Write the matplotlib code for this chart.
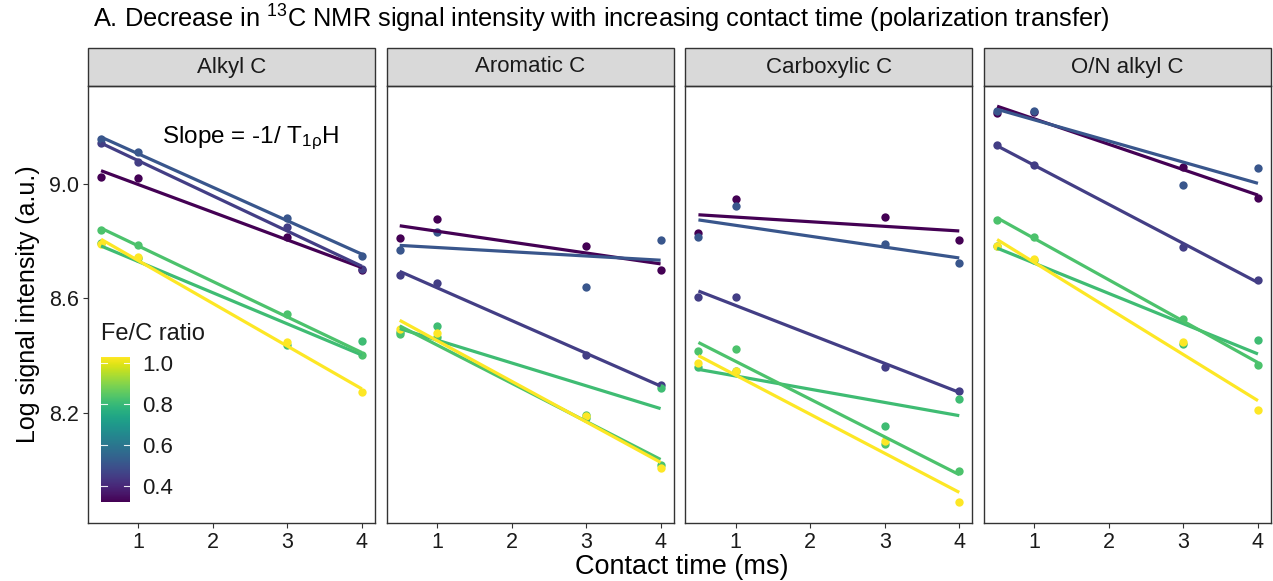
import numpy as np
import matplotlib
matplotlib.use("Agg")
import matplotlib.pyplot as plt
from matplotlib.patches import Rectangle
from matplotlib import colors

plt.rcParams['font.family'] = ['Liberation Sans', 'DejaVu Sans']
plt.rcParams['mathtext.fontset'] = 'custom'
plt.rcParams['mathtext.rm'] = 'Liberation Sans'
plt.rcParams['mathtext.it'] = 'Liberation Sans:italic'

# ---------------- data ----------------
contact_time = [0.5, 1, 3, 4]
panels = ['Alkyl C', 'Aromatic C', 'Carboxylic C', 'O/N alkyl C']
fe_c_ratio = [0.32, 0.45, 0.51, 0.81, 0.83, 1.03]

alkyl_c = [
    [9.022, 9.020, 8.813, 8.697],
    [9.142, 9.074, 8.848, 8.703],
    [9.155, 9.109, 8.879, 8.747],
    [8.792, 8.741, 8.439, 8.452],
    [8.839, 8.785, 8.547, 8.402],
    [8.790, 8.745, 8.448, 8.272],
]
aromatic_c = [
    [8.810, 8.876, 8.782, 8.697],
    [8.683, 8.652, 8.402, 8.297],
    [8.769, 8.831, 8.640, 8.802],
    [8.483, 8.505, 8.184, 8.288],
    [8.474, 8.465, 8.193, 8.019],
    [8.494, 8.480, 8.190, 8.010],
]
carboxylic_c = [
    [8.827, 8.947, 8.884, 8.802],
    [8.603, 8.606, 8.359, 8.278],
    [8.813, 8.921, 8.790, 8.723],
    [8.361, 8.347, 8.154, 8.248],
    [8.417, 8.423, 8.091, 7.998],
    [8.376, 8.346, 8.103, 7.891],
]
on_alkyl_c = [
    [9.246, 9.250, 9.057, 8.950],
    [9.135, 9.063, 8.780, 8.663],
    [9.254, 9.254, 8.995, 9.053],
    [8.784, 8.735, 8.442, 8.454],
    [8.874, 8.813, 8.529, 8.369],
    [8.781, 8.738, 8.448, 8.210],
]
panel_data = [alkyl_c, aromatic_c, carboxylic_c, on_alkyl_c]

x_ticks = [1, 2, 3, 4]
y_ticks = [8.2, 8.6, 9.0]
cbar_ticks = [0.4, 0.6, 0.8, 1.0]

# ---------------- figure ----------------
W, H = 1273, 581
fig = plt.figure(figsize=(W / 100, H / 100), dpi=100)
fig.subplots_adjust(left=88 / W, right=1271 / W, top=1 - 86 / H, bottom=1 - 523 / H, wspace=0.041)
axes = fig.subplots(1, 4, sharey=True)

cmap = matplotlib.colormaps['viridis']
norm = colors.Normalize(vmin=min(fe_c_ratio), vmax=max(fe_c_ratio))
t = np.array(contact_time)
tt = np.linspace(min(contact_time), max(contact_time), 50)

for ax, name, data in zip(axes, panels, panel_data):
    for ratio, vals in zip(fe_c_ratio, data):
        c = cmap(norm(ratio))
        ax.scatter(t, vals, s=36, color=c, zorder=2, linewidths=0)
    for ratio, vals in zip(fe_c_ratio, data):
        c = cmap(norm(ratio))
        k, b = np.polyfit(t, vals, 1)
        ax.plot(tt, k * tt + b, color=c, lw=2.3, zorder=3, solid_capstyle='butt')
    ax.set_xlim(0.325, 4.175)
    ax.set_ylim(7.817, 9.34)
    ax.set_xticks(x_ticks)
    ax.set_yticks(y_ticks)
    ax.set_yticklabels([f'{v:.1f}' for v in y_ticks])
    for s in ax.spines.values():
        s.set_color('#333333')
        s.set_linewidth(1.0)
    ax.tick_params(axis='both', length=3.5, width=0.8, color='#333333',
                   labelsize=15.5, labelcolor='#1a1a1a', pad=3)
    # strip
    strip_h = 38 / 437
    ax.add_patch(Rectangle((0, 1.0), 1, strip_h, transform=ax.transAxes,
                           facecolor='#d9d9d9', edgecolor='#333333', lw=1.0,
                           clip_on=False))
    ax.text(0.5, 1 + strip_h / 2, name, transform=ax.transAxes, ha='center',
            va='center', fontsize=16, color='#1a1a1a')

for ax in axes[1:]:
    ax.tick_params(axis='y', left=False, labelleft=False)

fig.text(162 / W, 1 - 138 / H, 'Slope = -1/ T$_{\\mathregular{1ρ}}$H',
         ha='left', va='center', fontsize=17.5, color='black')

# colorbar inside first panel
cax = fig.add_axes([101 / W, 1 - 502 / H, 29 / W, 145 / H])
cb = matplotlib.colorbar.ColorbarBase(cax, cmap=cmap, norm=norm, orientation='vertical')
cb.outline.set_visible(False)
cb.set_ticks(cbar_ticks)
cb.set_ticklabels([f'{v:.1f}' for v in cbar_ticks])
cax.tick_params(length=0, labelsize=16, labelcolor='#1a1a1a', pad=9)
for v in cbar_ticks:
    cax.plot([0, 0.2], [v, v], color='white', lw=0.8, alpha=0.9)
    cax.plot([0.8, 1.0], [v, v], color='white', lw=0.8, alpha=0.9)
fig.text(101 / W, 1 - 334 / H, 'Fe/C ratio', ha='left', va='center', fontsize=17, color='#1a1a1a')

fig.text(93 / W, 1 - 19 / H, 'A. Decrease in $^{\\mathregular{13}}$C NMR signal intensity with increasing contact time (polarization transfer)',
         ha='left', va='center', fontsize=18.3, color='black')
fig.text(682 / W, 1 - 567 / H, 'Contact time (ms)', ha='center', va='center', fontsize=19.5, color='black')
fig.text(28 / W, 1 - 304 / H, 'Log signal intensity (a.u.)', ha='center', va='center', rotation=90,
         fontsize=18, color='black')

fig.savefig('out.png', dpi=100)
